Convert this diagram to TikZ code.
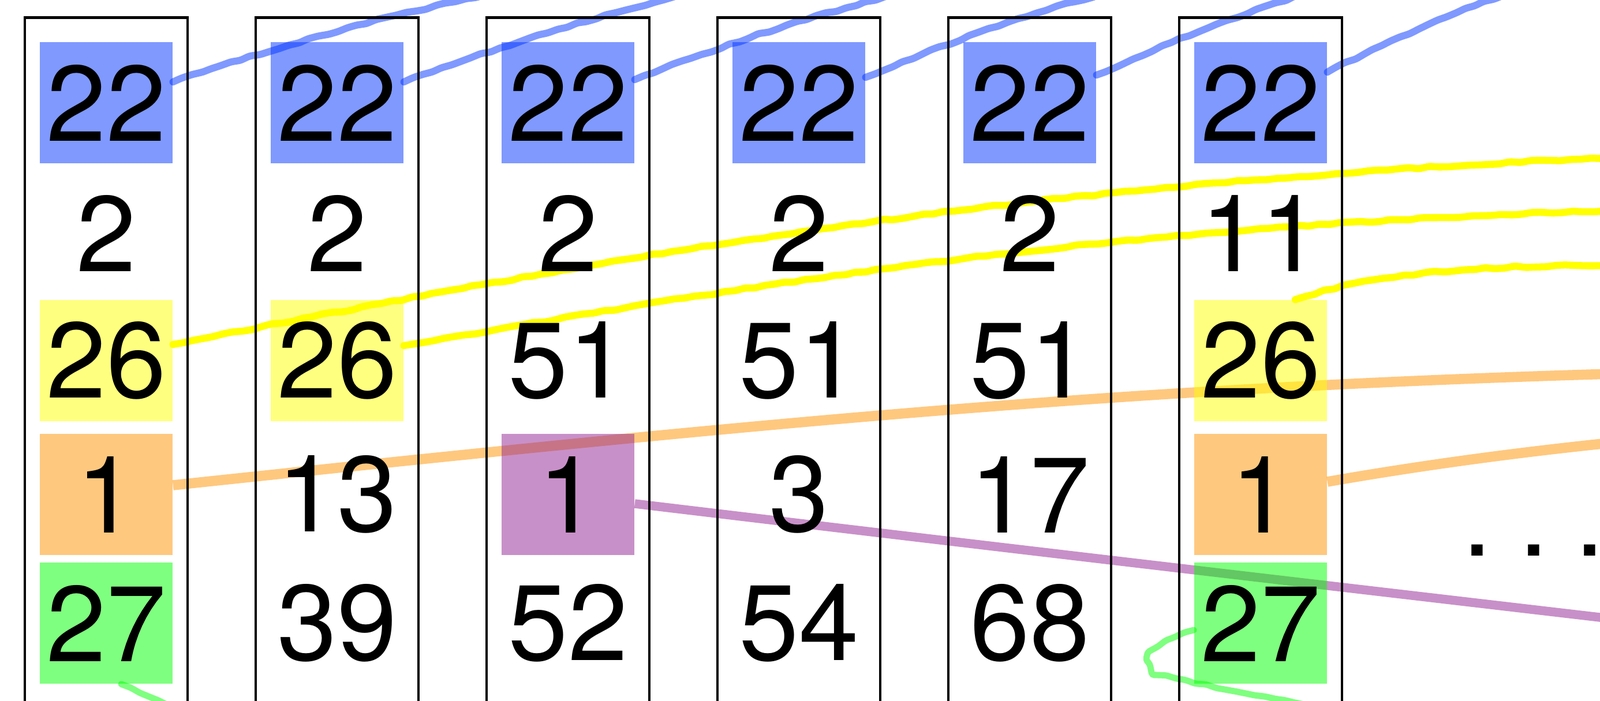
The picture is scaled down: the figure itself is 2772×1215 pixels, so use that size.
\documentclass[tikz,border=0pt]{standalone}
\usepackage{fontspec}
\setsansfont{TeX Gyre Heros}
\usepackage{xcolor}
\usepackage{tikz}
\usetikzlibrary{backgrounds, decorations.pathmorphing}

\definecolor{kblue}{RGB}{0,51,255}
\definecolor{kyellow}{RGB}{255,255,0}
\definecolor{korange}{RGB}{255,145,0}
\definecolor{kpurple}{RGB}{145,33,145}
\definecolor{kgreen}{RGB}{0,255,0}
\newcommand{\numfont}{\sffamily\fontsize{53}{60}\selectfont}

\begin{document}
\begin{tikzpicture}[
    x=0.1mm, y=-0.1mm,
    every node/.style={font=\numfont},
    colframe/.style={
      rectangle, draw=black, line width=1.4pt, inner sep=0pt,
      minimum width=2.82cm, minimum height=13cm, anchor=north
    },
    cell/.style={
      rectangle, inner sep=0pt, minimum width=2.3cm, minimum height=2.1cm
    },
    hlblue/.style={cell, fill=kblue, fill opacity=0.5, text opacity=1},
    hlyellow/.style={cell, fill=kyellow, fill opacity=0.5, text opacity=1},
    hlorange/.style={cell, fill=korange, fill opacity=0.5, text opacity=1},
    hlpurple/.style={cell, fill=kpurple, fill opacity=0.5, text opacity=1},
    hlgreen/.style={cell, fill=kgreen, fill opacity=0.5, text opacity=1},
    handline/.style={
      line width=3.5pt, line cap=round, rounded corners=1pt,
      decorate, decoration={random steps, segment length=5pt, amplitude=0.5pt}
    },
    blueline/.style={handline, draw=kblue, draw opacity=0.5},
    yellowline/.style={handline, draw=kyellow},
    greenline/.style={handline, line width=3.1pt, draw=kgreen, draw opacity=0.5},
    orangeline/.style={line width=5pt, draw=korange, draw opacity=0.5},
    purpleline/.style={line width=4.4pt, draw=kpurple, draw opacity=0.5}
  ]

    \useasboundingbox (0,0) rectangle (2772,1215);
    \clip (0,0) rectangle (2772,1215);

    % column frames
    \foreach \i in {1,...,6}
      \node[colframe] (col\i) at ({184+400*(\i-1)},28) {};

    % first row
    \foreach \i in {1,...,6}
      \node[hlblue] (c\i-1) at ({184+400*(\i-1)},178) {22};

    % column 1
    \node[cell]     (c1-2) at (184,404)  {2};
    \node[hlyellow] (c1-3) at (184,625)  {26};
    \node[hlorange] (c1-4) at (184,857)  {1};
    \node[hlgreen]  (c1-5) at (184,1080) {27};

    % column 2
    \node[cell]     (c2-2) at (584,404)  {2};
    \node[hlyellow] (c2-3) at (584,625)  {26};
    \node[cell]     (c2-4) at (584,857)  {13};
    \node[cell]     (c2-5) at (584,1080) {39};

    % column 3
    \node[cell]     (c3-2) at (984,404)  {2};
    \node[cell]     (c3-3) at (984,625)  {51};
    \node[hlpurple] (c3-4) at (984,857)  {1};
    \node[cell]     (c3-5) at (984,1080) {52};

    % column 4
    \node[cell] (c4-2) at (1384,404)  {2};
    \node[cell] (c4-3) at (1384,625)  {51};
    \node[cell] (c4-4) at (1384,857)  {3};
    \node[cell] (c4-5) at (1384,1080) {54};

    % column 5
    \node[cell] (c5-2) at (1784,404)  {2};
    \node[cell] (c5-3) at (1784,625)  {51};
    \node[cell] (c5-4) at (1784,857)  {17};
    \node[cell] (c5-5) at (1784,1080) {68};

    % column 6
    \node[cell]     (c6-2) at (2184,404)  {11};
    \node[hlyellow] (c6-3) at (2184,625)  {26};
    \node[hlorange] (c6-4) at (2184,857)  {1};
    \node[hlgreen]  (c6-5) at (2184,1080) {27};

    \node[anchor=base west, inner sep=0pt] (more) at (2533,963) {.\kern13pt.\kern13pt.};

    % loose ends outside the picture
    \coordinate (b1) at (1004,-40);
    \coordinate (b2) at (1325,-40);
    \coordinate (b3) at (1679,-40);
    \coordinate (b4) at (2018,-40);
    \coordinate (b5) at (2357,-40);
    \coordinate (b6) at (2694,-40);
    \coordinate (y1e) at (2900,268);
    \coordinate (y2e) at (2900,361);
    \coordinate (y3e) at (2900,458);
    \coordinate (o1e) at (2900,645);
    \coordinate (o2e) at (2900,757);
    \coordinate (p1e) at (2900,1085);
    \coordinate (g1e) at (340,1245);
    \coordinate (g2e) at (2330,1235);

    \begin{scope}[on background layer]
      \clip (0,0) rectangle (2772,1215);

      % blue strokes
      \foreach \i/\up in {1/0.36, 2/0.36, 3/0.40, 4/0.44, 5/0.48, 6/0.53}
        \draw[blueline] ([yshift=\up cm]c\i-1.east) to[bend left=4] (b\i);

      % yellow strokes
      \draw[yellowline] ([yshift=0.28cm]c1-3.east)
        .. controls (1300,395) and (1900,310) .. (y1e);
      \draw[yellowline] ([yshift=0.26cm]c2-3.east)
        .. controls (1600,439) and (2100,385) .. (y2e);
      \draw[yellowline] ([xshift=0.6cm]c6-3.north)
        .. controls (2360,480) and (2500,458) .. (y3e);

      % orange and purple
      \draw[orangeline] ([yshift=0.16cm]c1-4.east)
        .. controls (1400,724) and (2000,668) .. (o1e);
      \draw[orangeline] ([yshift=0.22cm]c6-4.east)
        .. controls (2500,800) and (2700,775) .. (o2e);
      \draw[purpleline] ([yshift=-0.16cm]c3-4.east)
        .. controls (1700,945) and (2300,1015) .. (p1e);

      % green strokes
      \draw[greenline] ([xshift=0.26cm]c1-5.south) -- (g1e);
      \draw[greenline] ([yshift=-0.12cm]c6-5.west)
        .. controls (2010,1112) and (1985,1130) .. (1991,1148)
        .. controls (1997,1175) and (2130,1195) .. (g2e);
    \end{scope}

  \end{tikzpicture}
\end{document}
